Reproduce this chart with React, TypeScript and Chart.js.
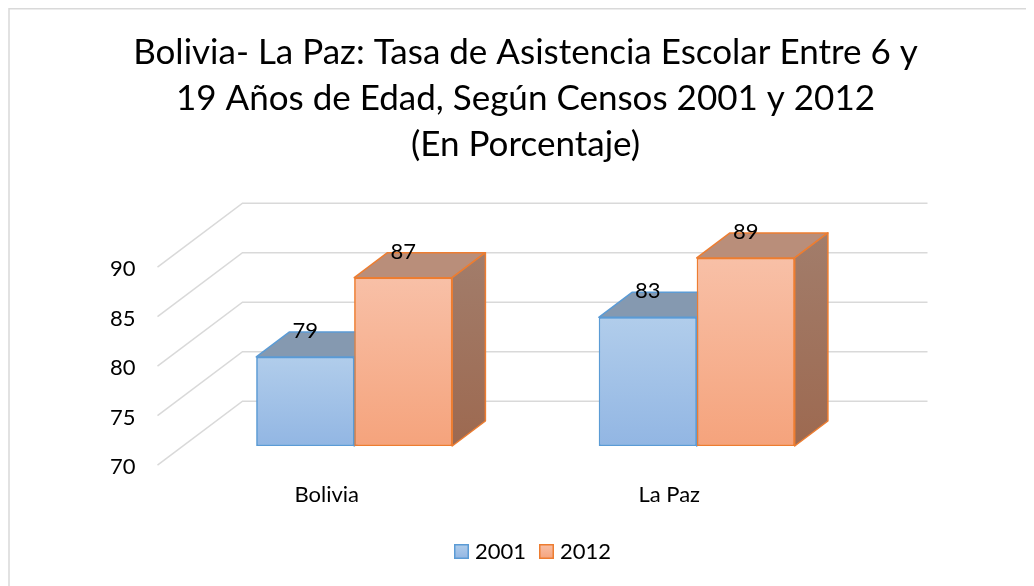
import React, { useEffect, useRef } from "react";
import { Chart, registerables } from "chart.js";

Chart.register(...registerables);

const categories = ["Bolivia", "La Paz"];
const seriesNames = ["2001", "2012"];
const values2001 = [79, 83];
const values2012 = [87, 89];
const yTicks = [70, 75, 80, 85, 90];
const titleLines = [
  "Bolivia- La Paz: Tasa de Asistencia Escolar Entre 6 y",
  "19 Años de Edad, Según Censos 2001 y 2012",
  "(En Porcentaje)",
];

const W = 1026;
const H = 578;
const FONT = "Lato, 'Open Sans', sans-serif";
const LABEL_SIZE = 22;
const AXIS_MIN = 70;
const AXIS_MAX = 90;

// 3D projection vectors (relative to bar front plane)
const TO_FRONT = { dx: -25.5, dy: 19.2 };
const TO_BACK = { dx: 59.5, dy: -44.8 };
const BAR_DEPTH = { dx: 33.2, dy: -25 };

const styles = [
  {
    border: "#5b9bd5",
    gTop: "#b1cdeb",
    gBot: "#92b6e3",
    topFace: "#8599b0",
    sideTop: "#7890ad",
    sideBot: "#6a84a6",
  },
  {
    border: "#ed7d31",
    gTop: "#f8c0a7",
    gBot: "#f5a37c",
    topFace: "#b98e7a",
    sideTop: "#a27d6b",
    sideBot: "#9d6950",
  },
];

function frontGradient(ctx: any, idx: number) {
  const chart = ctx.chart;
  const area = chart.chartArea;
  const st = styles[idx];
  if (!area) return st.gTop;
  const ys = chart.scales.y;
  const v = ctx.raw as number;
  const top = ys.getPixelForValue(v);
  const bot = ys.getPixelForValue(ys.min);
  const g = chart.ctx.createLinearGradient(0, top, 0, bot);
  g.addColorStop(0, st.gTop);
  g.addColorStop(1, st.gBot);
  return g;
}

const decorPlugin = {
  id: "decor3d",
  beforeDraw(chart: any) {
    const c = chart.ctx;
    c.save();
    c.fillStyle = "#ffffff";
    c.fillRect(0, 0, W, H);
    c.strokeStyle = "#d9d9d9";
    c.lineWidth = 1.5;
    c.beginPath();
    c.moveTo(1, H);
    c.lineTo(1, 0.75);
    c.lineTo(W, 0.75);
    c.stroke();

    // title
    c.fillStyle = "#000000";
    c.textAlign = "center";
    c.textBaseline = "alphabetic";
    let size = 34;
    c.font = `${size}px ${FONT}`;
    const w = c.measureText(titleLines[0]).width;
    size = (size * 785) / w;
    c.font = `${size}px ${FONT}`;
    const baselines = [56, 102, 148];
    titleLines.forEach((t, i) => c.fillText(t, 517.5, baselines[i]));

    // legend
    const legendX = [446, 531];
    seriesNames.forEach((name, i) => {
      const st = styles[i];
      const x = legendX[i];
      const g = c.createLinearGradient(0, 536, 0, 551);
      g.addColorStop(0, st.gTop);
      g.addColorStop(1, st.gBot);
      c.fillStyle = g;
      c.fillRect(x, 536, 15, 15);
      c.strokeStyle = st.border;
      c.lineWidth = 1.5;
      c.strokeRect(x + 0.75, 536.75, 13.5, 13.5);
      c.fillStyle = "#000000";
      c.font = `${LABEL_SIZE}px ${FONT}`;
      c.textAlign = "left";
      c.textBaseline = "middle";
      c.fillText(name, x + 21, 544);
    });
    c.restore();
  },
  beforeDatasetsDraw(chart: any) {
    const c = chart.ctx;
    const area = chart.chartArea;
    const ys = chart.scales.y;
    const xs = chart.scales.x;
    c.save();
    c.strokeStyle = "#d9d9d9";
    c.lineWidth = 1.5;
    yTicks.forEach((v) => {
      const y = ys.getPixelForValue(v);
      const bx0 = area.left + TO_BACK.dx;
      const bx1 = area.right + TO_BACK.dx;
      const by = y + TO_BACK.dy;
      c.beginPath();
      c.moveTo(area.left + TO_FRONT.dx, y + TO_FRONT.dy);
      c.lineTo(bx0, by);
      c.lineTo(bx1, by);
      c.stroke();
    });
    // tick labels
    c.fillStyle = "#000000";
    c.font = `${LABEL_SIZE}px ${FONT}`;
    c.textAlign = "right";
    c.textBaseline = "middle";
    yTicks.forEach((v) => {
      const y = ys.getPixelForValue(v);
      c.fillText(String(v), area.left + TO_FRONT.dx - 22, y + TO_FRONT.dy + 2);
    });
    // category labels
    c.textAlign = "center";
    c.font = `${LABEL_SIZE}px ${FONT}`;
    categories.forEach((cat, i) => {
      const x = xs.getPixelForTick(i);
      c.fillText(cat, x + TO_FRONT.dx - 2, area.bottom + TO_FRONT.dy + 30);
    });
    c.restore();
  },
  afterDatasetsDraw(chart: any) {
    const c = chart.ctx;
    const area = chart.chartArea;
    const n = chart.data.datasets.length;
    // repaint in painter's order: each series' front face, then its top and side faces
    for (let i = 0; i < n; i++) {
      const st = styles[i];
      const meta = chart.getDatasetMeta(i);
      meta.data.forEach((el: any) => {
        c.save();
        c.beginPath();
        c.rect(area.left, area.top - 60, area.right - area.left, area.bottom - area.top + 62);
        c.clip();
        el.draw(c, area);
        c.restore();
        const p = el.getProps(["x", "y", "base", "width"], true);
        const l = p.x - p.width / 2;
        const r = p.x + p.width / 2;
        const t = p.y;
        const b = Math.min(p.base, area.bottom);
        const { dx, dy } = BAR_DEPTH;
        c.save();
        c.lineWidth = 1.5;
        c.lineJoin = "round";
        c.strokeStyle = st.border;
        // top face
        c.beginPath();
        c.moveTo(l, t);
        c.lineTo(l + dx, t + dy);
        c.lineTo(r + dx, t + dy);
        c.lineTo(r, t);
        c.closePath();
        c.fillStyle = st.topFace;
        c.fill();
        c.stroke();
        // side face
        const g = c.createLinearGradient(0, t + dy, 0, b);
        g.addColorStop(0, st.sideTop);
        g.addColorStop(1, st.sideBot);
        c.beginPath();
        c.moveTo(r, t);
        c.lineTo(r + dx, t + dy);
        c.lineTo(r + dx, b + dy);
        c.lineTo(r, b);
        c.closePath();
        c.fillStyle = g;
        c.fill();
        c.stroke();
        c.restore();
      });
    }
    // data labels
    c.save();
    c.fillStyle = "#000000";
    c.font = `${LABEL_SIZE}px ${FONT}`;
    c.textAlign = "center";
    c.textBaseline = "middle";
    chart.data.datasets.forEach((ds: any, i: number) => {
      const meta = chart.getDatasetMeta(i);
      meta.data.forEach((el: any, j: number) => {
        const p = el.getProps(["x", "y"], true);
        c.fillText(String(ds.data[j]), p.x, p.y - 26);
      });
    });
    c.restore();
  },
};

export default function App() {
  const ref = useRef<HTMLCanvasElement | null>(null);
  useEffect(() => {
    if (!ref.current) return;
    const chart = new Chart(ref.current, {
      type: "bar",
      data: {
        labels: categories,
        datasets: [
          {
            label: seriesNames[0],
            data: values2001,
            base: AXIS_MIN,
            backgroundColor: (ctx: any) => frontGradient(ctx, 0),
            borderColor: styles[0].border,
            borderWidth: 1.5,
            borderSkipped: false,
            categoryPercentage: 0.572,
            barPercentage: 1,
          },
          {
            label: seriesNames[1],
            data: values2012,
            base: AXIS_MIN,
            backgroundColor: (ctx: any) => frontGradient(ctx, 1),
            borderColor: styles[1].border,
            borderWidth: 1.5,
            borderSkipped: false,
            categoryPercentage: 0.572,
            barPercentage: 1,
          },
        ],
      },
      options: {
        responsive: false,
        animation: false,
        devicePixelRatio: 1,
        layout: { padding: { left: 175, right: 166, top: 240, bottom: 140 } },
        scales: {
          x: { display: false },
          y: { display: false, min: AXIS_MIN, max: AXIS_MAX },
        },
        plugins: {
          legend: { display: false },
          title: { display: false },
          tooltip: { enabled: false },
        },
      },
      plugins: [decorPlugin],
    } as any);
    return () => chart.destroy();
  }, []);
  return (
    <div style={{ width: W, height: H }}>
      <canvas ref={ref} width={W} height={H} style={{ display: "block" }} />
    </div>
  );
}
